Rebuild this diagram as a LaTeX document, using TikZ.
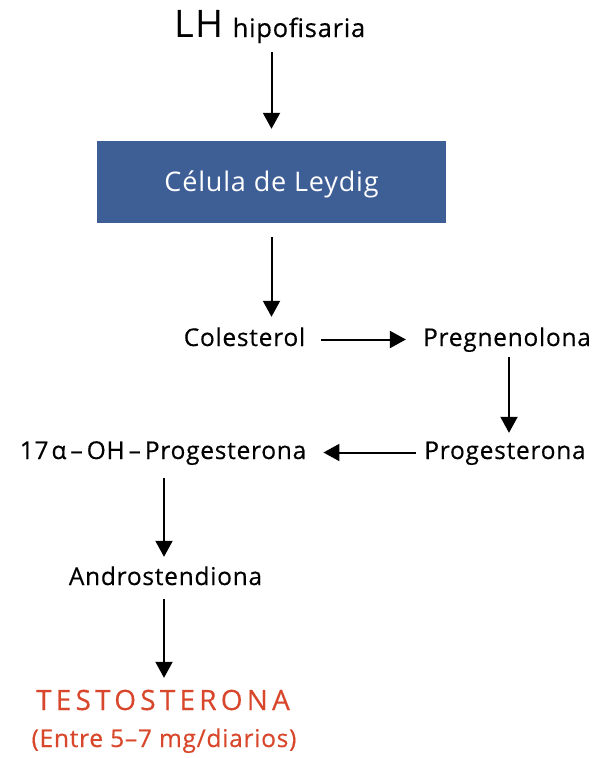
\documentclass[tikz,border=0pt]{standalone}
\usepackage{fontspec}
\setmainfont{Open Sans}[LetterSpace=3,FakeBold=0.4]
\newfontfamily\espaciada{Open Sans}[LetterSpace=15,FakeBold=0.3]
\newfontfamily\claro{Open Sans}[LetterSpace=3]
\usetikzlibrary{arrows.meta}
\definecolor{leydig}{RGB}{62,94,150}
\definecolor{testo}{RGB}{216,71,43}

\begin{document}
\begin{tikzpicture}[x=1pt,y=-1pt]
	    \tikzset{>={Triangle[length=16pt,width=17pt]}}
	    \tikzset{paso/.style={inner sep=0pt,anchor=base,text height=18pt,text depth=5pt,font=\fontsize{24.5}{28}\selectfont}}
	    \tikzset{flecha/.style={->,line width=2pt}}
	    \useasboundingbox (0,0) rectangle (592,758);
	    \node [paso] (lh) at (270,37) {{\fontsize{38}{40}\claro LH}\hspace{9pt}{\fontsize{25.5}{28}\selectfont hipofisaria}};
	    \node [fill=leydig,minimum width=349pt,minimum height=82pt,inner sep=0pt,text=white,text height=19pt,text depth=0pt,font=\fontsize{27}{30}\claro] (cel) at (271.5,182) {Célula de Leydig};
	    \node [paso] (col) at (244.5,346) {Colesterol};
	    \node [paso] (preg) at (507,346) {Pregnenolona};
	    \node [paso] (prog) at (505,459) {Progesterona};
	    \node [paso] (ohp) at (163,459) {17\hspace{3pt}α\hspace{4pt}–\hspace{4pt}OH\hspace{4pt}–\hspace{4pt}Progesterona};
	    \node [paso] (andro) at (165.5,585) {Androstendiona};
	    \node [paso,text=testo,font=\fontsize{28}{32}\espaciada] (testo) at (163,710) {TESTOSTERONA};
	    \node [paso,text=testo] (dosis) at (164,747) {(Entre 5–7 mg/diarios)};
	    \draw [flecha,shorten <=10pt,shorten >=12pt] (cel.north |- lh.south) -- (cel.north);
	    \draw [flecha,shorten <=14pt,shorten >=11pt] (cel.south) -- (cel.south |- col.north);
	    \draw [flecha,shorten <=16pt,shorten >=17pt] (col.east) -- (col.east -| preg.west);
	    \draw [flecha,shorten <=6pt,shorten >=8pt] (preg.south -| 509,0) -- (prog.north -| 509,0);
	    \draw [flecha,shorten <=8pt,shorten >=17pt] (prog.west) -- (prog.west -| ohp.east);
	    \draw [flecha,shorten <=14pt,shorten >=10pt] (ohp.south -| 164,0) -- (andro.north -| 164,0);
	    \draw [flecha,shorten <=9pt,shorten >=14pt] (andro.south -| 164,0) -- (testo.north -| 164,0);
\end{tikzpicture}
\end{document}
